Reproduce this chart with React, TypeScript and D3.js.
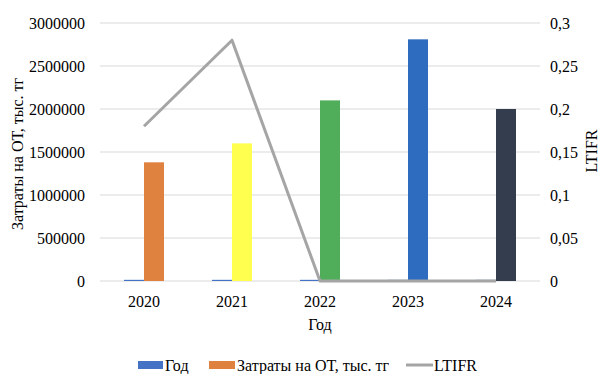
import React from "react";
import * as d3 from "d3";

const years = ["2020", "2021", "2022", "2023", "2024"];
const yearValues = [2020, 2021, 2022, 2023, 2024];
const costs = [1380000, 1600000, 2100000, 2810000, 2000000];
const ltifr = [0.18, 0.28, 0, 0, 0];
const costColors = ["#E0823F", "#FFFF4F", "#50AD5A", "#2E6CBF", "#343D4E"];
const leftTicks = [0, 500000, 1000000, 1500000, 2000000, 2500000, 3000000];
const rightTicks = [0, 0.05, 0.1, 0.15, 0.2, 0.25, 0.3];

const W = 600;
const H = 374;
const M = { left: 100, right: 60, top: 23, bottom: 93 };
const FONT = "Liberation Serif, DejaVu Serif, serif";
const FS = 16;

export default function App() {
  const x = d3.scaleBand<string>().domain(years).range([M.left, W - M.right]);
  const yL = d3.scaleLinear().domain([0, 3000000]).range([H - M.bottom, M.top]);
  const yR = d3.scaleLinear().domain([0, 0.3]).range([H - M.bottom, M.top]);
  const barW = 20;
  const center = (c: string) => (x(c) ?? 0) + x.bandwidth() / 2;
  const line = d3
    .line<number>()
    .x((_, i) => center(years[i]))
    .y((d) => yR(d));
  const fmtR = (v: number) => (v === 0 ? "0" : String(+v.toFixed(2)).replace(".", ","));
  const legendY = 365;

  return (
    <svg
      width={W}
      height={H}
      style={{ position: "absolute", left: 0, top: 0 }}
      fontFamily={FONT}
    >
      <rect width={W} height={H} fill="#fff" />
      {leftTicks.map((t) => (
        <line
          key={t}
          x1={M.left}
          x2={W - M.right}
          y1={yL(t)}
          y2={yL(t)}
          stroke="#D9D9D9"
          strokeWidth={1}
        />
      ))}
      {leftTicks.map((t) => (
        <text key={t} x={85} y={yL(t)} dy="0.35em" textAnchor="end" fontSize={FS} fontFamily={FONT} fill="#000">
          {t}
        </text>
      ))}
      {rightTicks.map((t) => (
        <text key={t} x={550} y={yR(t)} dy="0.35em" textAnchor="start" fontSize={FS} fontFamily={FONT} fill="#000">
          {fmtR(t)}
        </text>
      ))}
      {years.map((c, i) => (
        <g key={c}>
          <rect
            x={center(c) - barW}
            y={yL(yearValues[i]) - 1}
            width={barW}
            height={yL(0) - yL(yearValues[i]) + 1}
            fill="#4472C4"
          />
          <rect
            x={center(c)}
            y={yL(costs[i])}
            width={barW}
            height={yL(0) - yL(costs[i])}
            fill={costColors[i]}
          />
        </g>
      ))}
      <path d={line(ltifr) ?? ""} fill="none" stroke="#A5A5A5" strokeWidth={3} strokeLinejoin="round" />
      {years.map((c) => (
        <text key={c} x={center(c)} y={301} dy="0.35em" textAnchor="middle" fontSize={FS} fontFamily={FONT} fill="#000">
          {c}
        </text>
      ))}
      <text x={320} y={324} dy="0.35em" textAnchor="middle" fontSize={FS} fontFamily={FONT} fill="#000">
        Год
      </text>
      <text
        transform={`translate(17, 154) rotate(-90)`}
        textAnchor="middle"
        dy="0.35em"
        fontSize={FS}
        fontFamily={FONT}
        fill="#000"
      >
        Затраты на ОТ, тыс. тг
      </text>
      <text
        transform={`translate(591, 151) rotate(-90)`}
        textAnchor="middle"
        dy="0.35em"
        fontSize={FS}
        fontFamily={FONT}
        fill="#000"
      >
        LTIFR
      </text>
      <g fontSize={FS} fontFamily={FONT} fill="#000">
        <rect x={138} y={legendY - 4} width={25} height={8} fill="#4472C4" />
        <text x={165} y={legendY} dy="0.35em">Год</text>
        <rect x={209} y={legendY - 4} width={26} height={8} fill="#E0823F" />
        <text x={237} y={legendY} dy="0.35em">Затраты на ОТ, тыс. тг</text>
        <line x1={406} x2={433} y1={legendY} y2={legendY} stroke="#A5A5A5" strokeWidth={3} />
        <text x={434} y={legendY} dy="0.35em">LTIFR</text>
      </g>
    </svg>
  );
}
